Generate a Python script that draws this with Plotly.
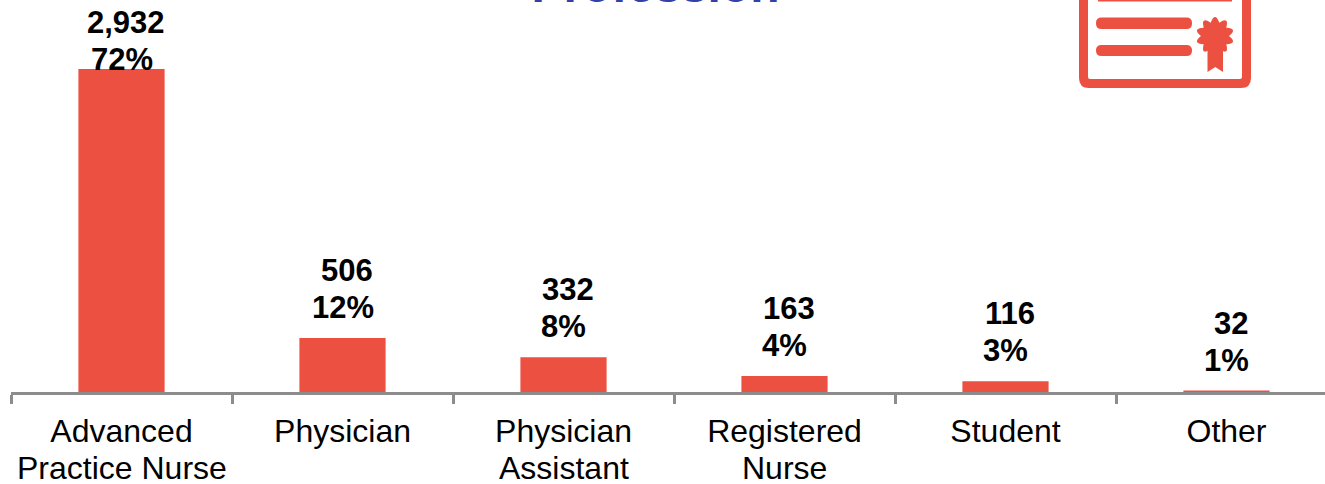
import math
import plotly.graph_objects as go

tick_first_lines = ["Advanced", "Physician", "Physician", "Registered", "Student", "Other"]
tick_second_lines = ["Practice Nurse", "", "Assistant", "Nurse", "", ""]
counts = [2932, 506, 332, 163, 116, 32]
percents = ["72%", "12%", "8%", "4%", "3%", "1%"]

RED = "#EB5040"
BLUE = "#3340A8"
GREY = "#8C8C8C"
FONT = "Liberation Sans"

W, H = 1325, 484
LEFT, AXIS_Y = 11, 392
STEP = 221
Y_MIN = 19
PX_PER_UNIT = 323 / (2932 - Y_MIN)


def px(x):
    return (x - LEFT) / (W - LEFT)


def py(y):
    return (AXIS_Y - y) / AXIS_Y


def path(cmds):
    # cmds: (letter, x, y, ...) in page pixels, converted to paper fractions
    out = []
    for c in cmds:
        if len(c) == 1:
            out.append(c[0])
            continue
        pts = c[1:]
        vals = [f"{px(pts[i]):.5f},{py(pts[i + 1]):.5f}" for i in range(0, len(pts), 2)]
        out.append(c[0] + " ".join(vals))
    return " ".join(out)


def rounded(x0, y0, x1, y1, r):
    return [("M", x0 + r, y0), ("L", x1 - r, y0), ("Q", x1, y0, x1, y0 + r),
            ("L", x1, y1 - r), ("Q", x1, y1, x1 - r, y1), ("L", x0 + r, y1),
            ("Q", x0, y1, x0, y1 - r), ("L", x0, y0 + r), ("Q", x0, y0, x0 + r, y0), ("Z",)]


def filled(cmds):
    return dict(type="path", xref="paper", yref="paper", path=path(cmds),
                fillcolor=RED, line=dict(width=0), layer="above")


# Certificate icon: frame, text rows and rosette with ribbon
icon = [
    filled(rounded(1079, -30, 1251, 88, 10) + rounded(1088, -30, 1242, 79, 2)),
    filled(rounded(1098, -1, 1232, 1.5, 0.5)),
    filled(rounded(1096, 17.5, 1192, 29, 5.5)),
    filled(rounded(1096, 45, 1192, 56, 5.5)),
    filled([("M", 1207.5, 46), ("L", 1223, 46), ("L", 1223, 72), ("L", 1215.3, 67),
            ("L", 1207.5, 72), ("Z",)]),
]
cx, cy = 1215, 36
INNER, CTRL, LOBES = 14, 24.5, 10


def polar(r, a):
    return cx + r * math.cos(a), cy + r * math.sin(a)


rosette = [("M",) + polar(INNER, -math.pi / 2 - math.pi / LOBES)]
for i in range(LOBES):
    tip = -math.pi / 2 + 2 * math.pi * i / LOBES
    rosette.append(("Q",) + polar(CTRL, tip) + polar(INNER, tip + math.pi / LOBES))
icon.append(filled(rosette + [("Z",)]))

label_font = dict(family=FONT, size=31, color="black", weight="bold")
annotations = []
for i, (n, p) in enumerate(zip(counts, percents)):
    shift = -10 if i == 0 else 11
    annotations.append(dict(x=i, y=n, xref="x", yref="y", text=p, showarrow=False,
                            yanchor="bottom", yshift=shift, font=label_font))
    annotations.append(dict(x=i, y=n, xref="x", yref="y", text=f"{n:,}", showarrow=False,
                            yanchor="bottom", xshift=4, yshift=shift + 37, font=label_font))

# Second row of the wrapped category names
for i, line in enumerate(tick_second_lines):
    if line:
        annotations.append(dict(x=i, y=0, xref="x", yref="paper", text=line, showarrow=False,
                                yanchor="middle", yshift=-76,
                                font=dict(family=FONT, size=32, color="black")))

positions = list(range(len(counts)))
fig = go.Figure(go.Bar(x=positions, y=counts, width=0.39, marker=dict(color=RED, line_width=0)))

fig.update_layout(
    width=W, height=H, margin=dict(l=LEFT, r=0, t=0, b=H - AXIS_Y, pad=0),
    paper_bgcolor="white", plot_bgcolor="white", showlegend=False,
    title=dict(text="<b>Profession</b>", x=(655.5 - LEFT) / (W - LEFT), xanchor="center",
               xref="paper", y=1 - 2 / H, yanchor="bottom", yref="container",
               font=dict(family=FONT, size=48, color=BLUE)),
    xaxis=dict(type="category", categoryorder="array", categoryarray=positions,
               tickmode="array", tickvals=positions, ticktext=tick_first_lines,
               range=[-0.5, -0.5 + (W - LEFT) / STEP], tickson="boundaries",
               ticks="outside", ticklen=9, tickwidth=2.5, tickcolor=GREY, showline=True,
               linecolor=GREY, linewidth=2.5, showgrid=False, zeroline=False,
               ticklabelstandoff=9,
               tickfont=dict(family=FONT, size=32, color="black"), automargin=False),
    yaxis=dict(range=[Y_MIN, Y_MIN + AXIS_Y / PX_PER_UNIT], visible=False,
               showgrid=False, zeroline=False),
    shapes=icon, annotations=annotations,
)

fig.write_html("out.html")
